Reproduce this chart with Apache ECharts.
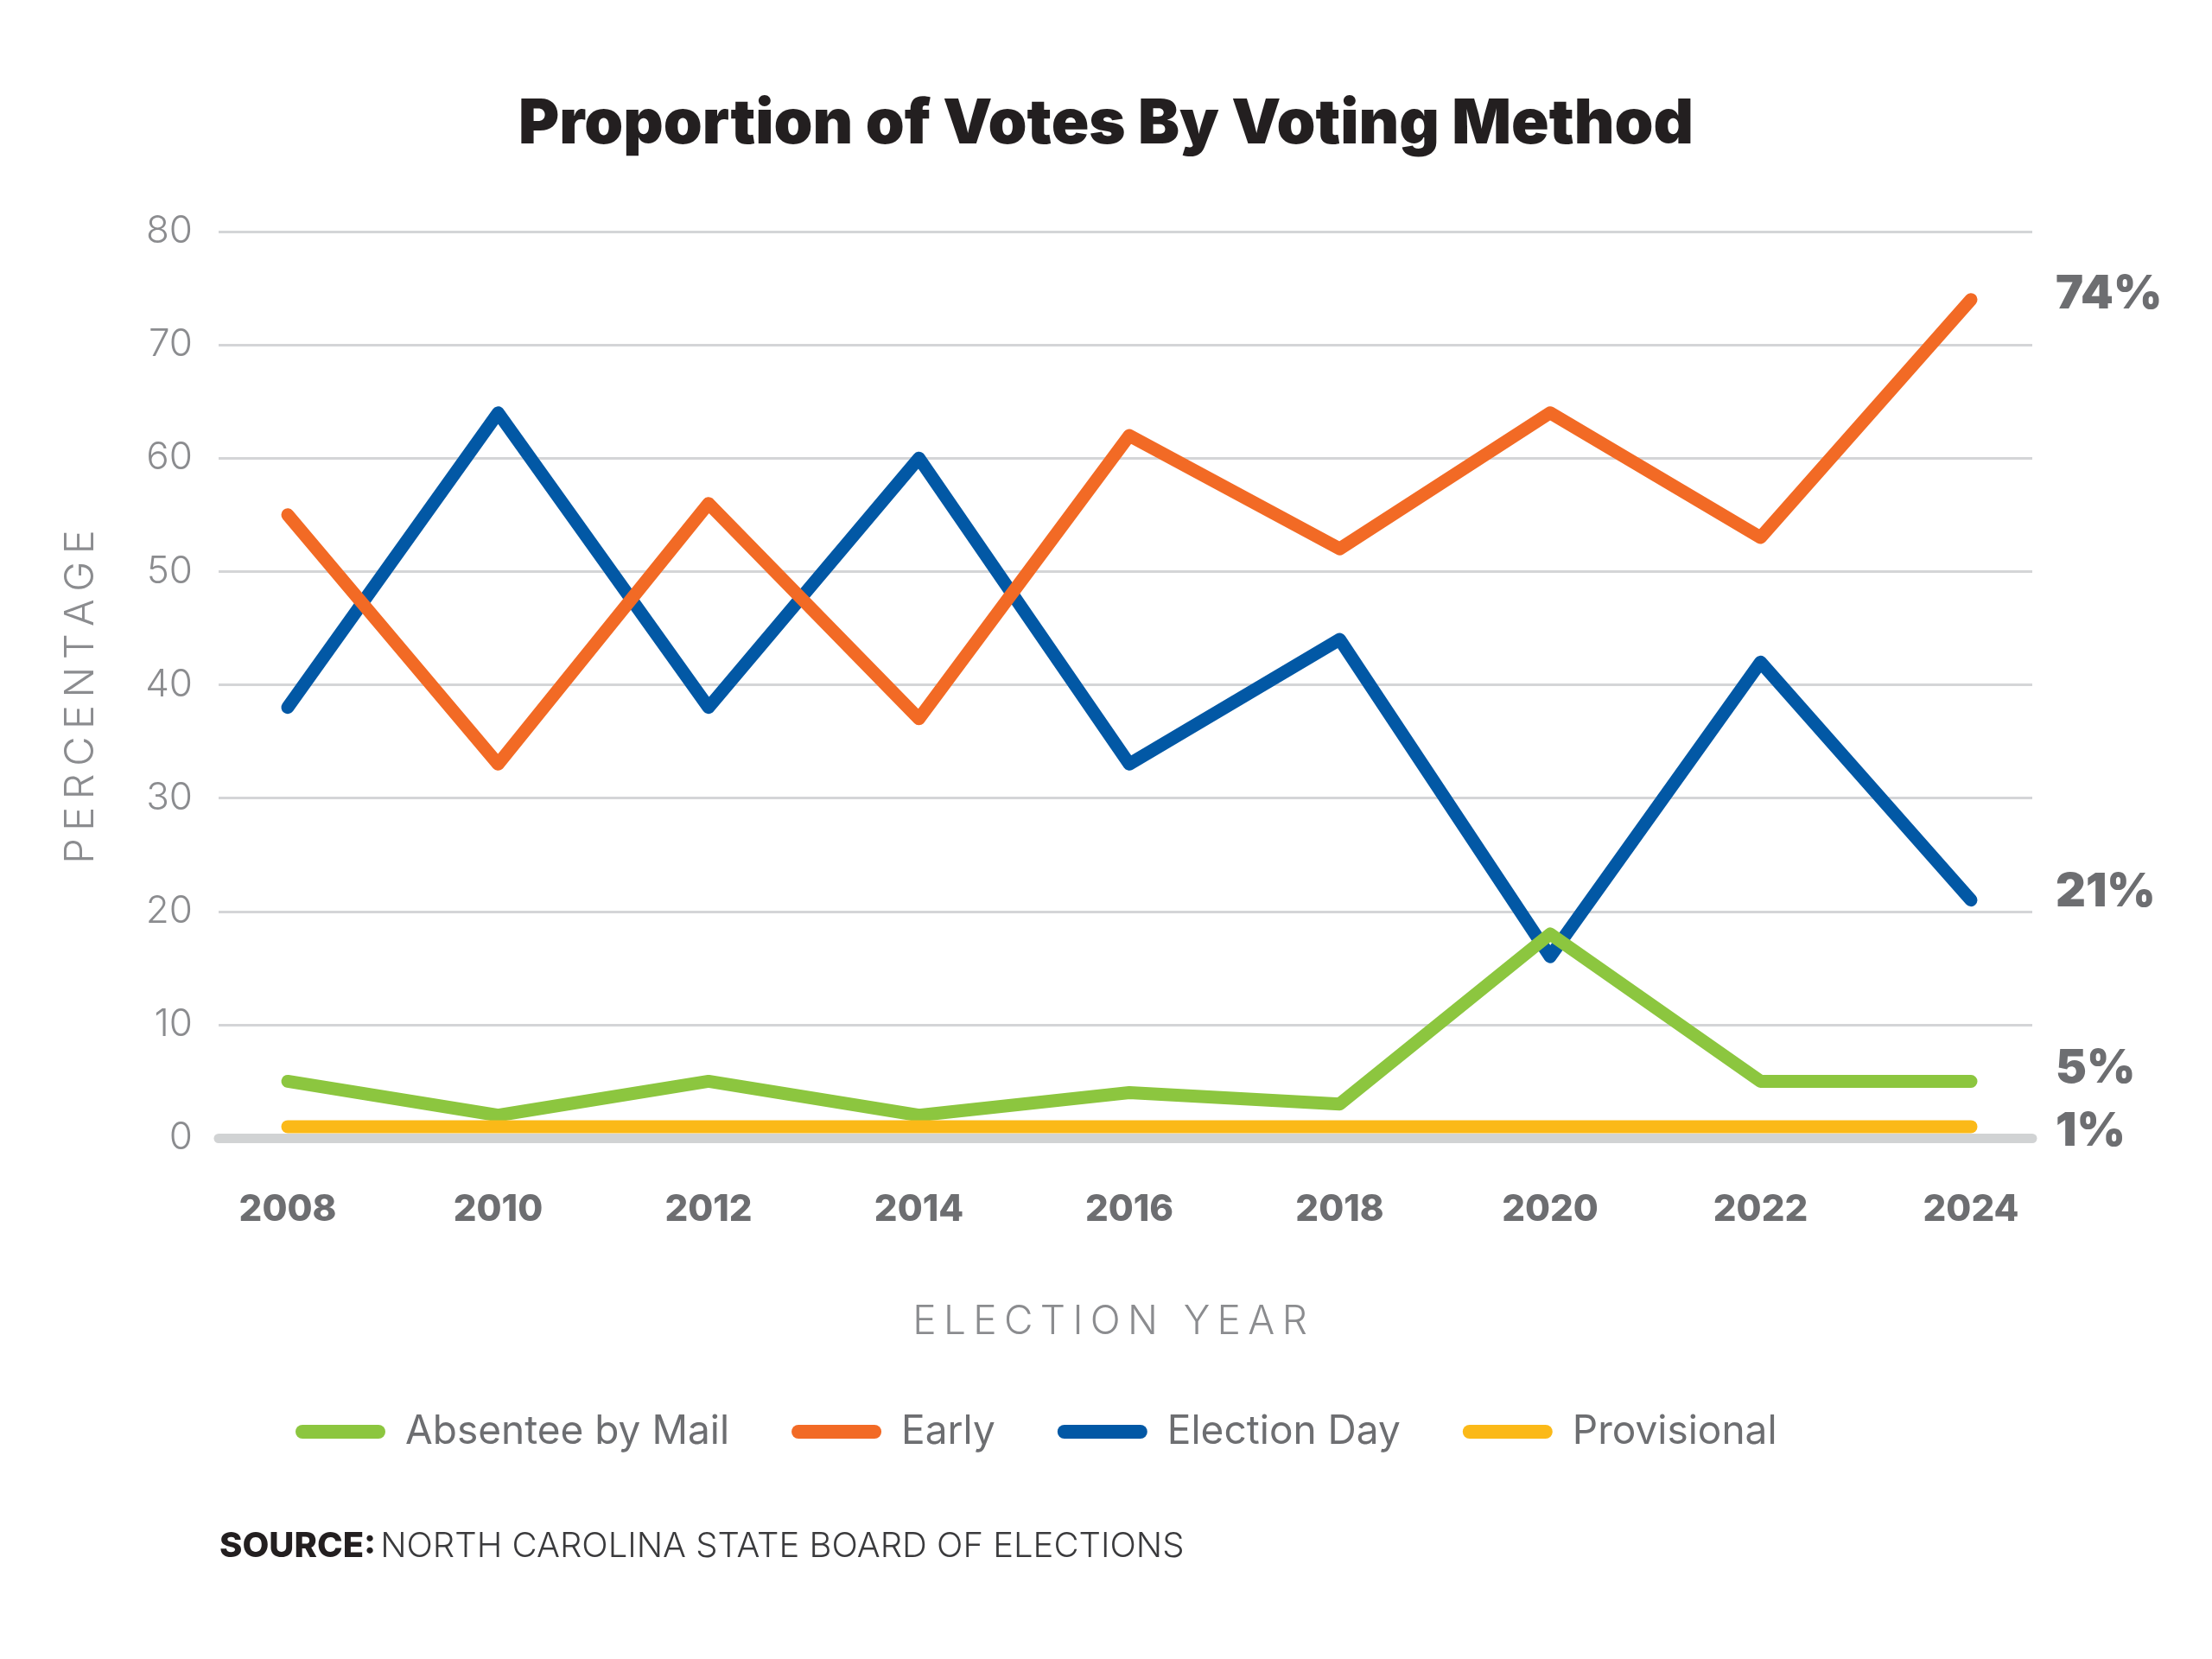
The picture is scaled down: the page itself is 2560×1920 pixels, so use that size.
<!DOCTYPE html>
<html lang="en">
<head>
<meta charset="utf-8">
<title>Proportion of Votes By Voting Method</title>
<script src="https://cdn.jsdelivr.net/npm/echarts@6.0.0/dist/echarts.min.js"></script>
<style>
  html, body { margin: 0; padding: 0; background: #fff; }
  #chart { width: 2560px; height: 1920px; }
</style>
</head>
<body>
<div id="chart"></div>
<script>
// values (percent of votes)
var years = [2008, 2010, 2012, 2014, 2016, 2018, 2020, 2022, 2024];
var absenteeByMail = [5, 2, 5, 2, 4, 3, 18, 5, 5];
var early = [55, 33, 56, 37, 62, 52, 64, 53, 74];
var electionDay = [38, 64, 38, 60, 33, 44, 16, 42, 21];
var provisional = [1, 1, 1, 1, 1, 1, 1, 1, 1];
var seriesNames = ['Absentee by Mail', 'Early', 'Election Day', 'Provisional'];

var FONT = 'Inter, "Noto Sans", sans-serif';
var GREY = '#6d6e71';
var LIGHT = '#8b8c8f';

function pairs(vals) {
    return years.map(function (y, i) { return [y, vals[i]]; });
}

// spread capitals apart with thin spaces (no letter-spacing in canvas text)
function spaced(s) {
    return s.split(' ').map(function (w) {
        return w.split('').join('\u2009');
    }).join('\u2009 \u2009');
}

// one line series, end label nudged up/down like the original
function line(name, vals, color, dy, z) {
    return {
        name: name,
        type: 'line',
        data: pairs(vals),
        showSymbol: false,
        symbol: 'none',
        z: z,
        color: color,
        lineStyle: { width: 15, color: color, cap: 'round', join: 'round' },
        endLabel: {
            show: true,
            formatter: function (p) { return p.value[1] + '%'; },
            distance: 98,
            offset: [0, dy],
            color: GREY,
            fontFamily: FONT,
            fontSize: 54,
            fontWeight: 900
        }
    };
}

var chart = echarts.init(document.getElementById('chart'));

chart.setOption({
    animation: false,
    backgroundColor: '#ffffff',
    title: [
        {
            text: 'Proportion of Votes By Voting Method',
            left: 'center',
            top: 108,
            padding: 0,
            textStyle: { fontFamily: FONT, fontSize: 72, fontWeight: 900, color: '#231f20' }
        },
        {
            text: '{b|SOURCE:} {r|NORTH CAROLINA STATE BOARD OF ELECTIONS}',
            left: 254,
            top: 1770,
            padding: 0,
            textStyle: {
                rich: {
                    b: { fontFamily: FONT, fontSize: 40, fontWeight: 800, color: '#231f20' },
                    r: { fontFamily: FONT, fontSize: 40, fontWeight: 300, color: '#3a3a3c' }
                }
            }
        }
    ],
    legend: {
        data: seriesNames,
        left: 337,
        top: 1629,
        icon: 'path://M8,0 H96 A8,8 0 0 1 96,16 H8 A8,8 0 0 1 8,0 Z',
        itemWidth: 104,
        itemHeight: 16,
        itemGap: 72,
        textStyle: { fontFamily: FONT, fontSize: 46, fontWeight: 400, color: GREY, padding: [0, 0, 0, 18] }
    },
    grid: { left: 253, right: 208, top: 268, bottom: 603 },
    xAxis: {
        type: 'value',
        min: 2007.343,
        max: 2024.583,
        name: spaced('ELECTION YEAR'),
        nameLocation: 'middle',
        nameGap: 190,
        nameTextStyle: { fontFamily: FONT, fontSize: 46, fontWeight: 300, color: LIGHT, padding: [0, 36, 0, 0] },
        axisLine: { show: true, onZero: true, lineStyle: { color: '#d1d3d4', width: 11 } },
        axisTick: { show: false },
        splitLine: { show: false },
        axisLabel: {
            customValues: years,
            margin: 62,
            color: GREY,
            fontFamily: FONT,
            fontSize: 42,
            fontWeight: 800,
            formatter: function (v) { return String(v); }
        }
    },
    yAxis: {
        type: 'value',
        min: 0,
        max: 80,
        interval: 10,
        name: spaced('PERCENTAGE'),
        nameLocation: 'middle',
        nameRotate: 90,
        nameGap: 136,
        nameTextStyle: { fontFamily: FONT, fontSize: 47, fontWeight: 300, color: LIGHT, padding: [0, 28, 0, 0] },
        axisLine: { show: false },
        axisTick: { show: false },
        axisLabel: { margin: 30, color: LIGHT, fontFamily: FONT, fontSize: 44, fontWeight: 300 },
        splitLine: { show: true, lineStyle: { color: '#d4d5d7', width: 3 } }
    },
    series: [
        line('Election Day', electionDay, '#0258a5', -9, 2),
        line('Early', early, '#f26a25', -6, 3),
        line('Absentee by Mail', absenteeByMail, '#8cc63f', -15, 4),
        line('Provisional', provisional, '#fbb918', 6, 5)
    ]
});
</script>
</body>
</html>
